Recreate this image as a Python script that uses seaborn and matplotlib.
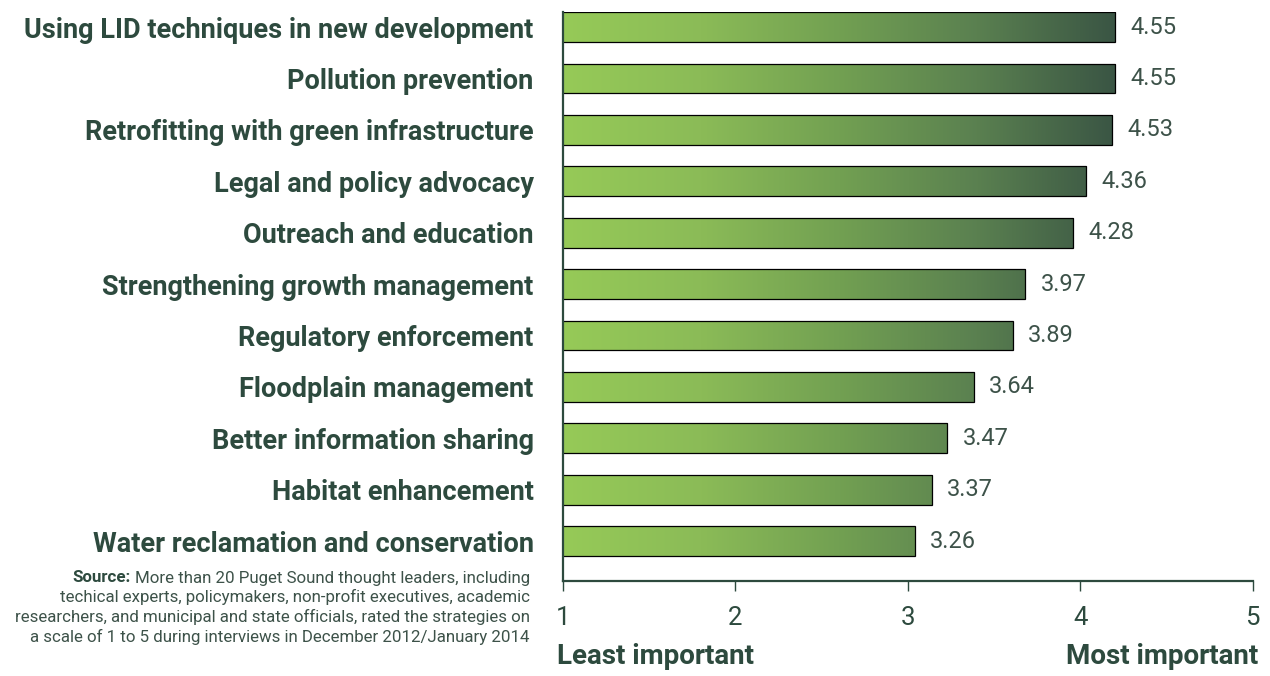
import matplotlib
matplotlib.use("Agg")
import numpy as np
import matplotlib.pyplot as plt
from matplotlib.colors import LinearSegmentedColormap
import seaborn as sns

strategies = [
    "Using LID techniques in new development",
    "Pollution prevention",
    "Retrofitting with green infrastructure",
    "Legal and policy advocacy",
    "Outreach and education",
    "Strengthening growth management",
    "Regulatory enforcement",
    "Floodplain management",
    "Better information sharing",
    "Habitat enhancement",
    "Water reclamation and conservation",
]
scores = [4.55, 4.55, 4.53, 4.36, 4.28, 3.97, 3.89, 3.64, 3.47, 3.37, 3.26]
scale_ticks = [1, 2, 3, 4, 5]
source_lines = [
    "More than 20 Puget Sound thought leaders, including",
    "techical experts, policymakers, non-profit executives, academic",
    "researchers, and municipal and state officials, rated the strategies on",
    "a scale of 1 to 5 during interviews in December 2012/January 2014",
]

sns.set_theme(style="white")
plt.rcParams['font.family'] = ['Roboto', 'DejaVu Sans']

text_col = "#2d4a3e"
num_col = "#3d5249"
green = LinearSegmentedColormap.from_list(
    "bar_green", ["#96ca58", "#8bbb57", "#72a052", "#5a8050", "#3a5544"])

fig = plt.figure(figsize=(12.7, 6.76), dpi=100)
ax = fig.add_axes([0.4431, 0.141, 0.5433, 0.841])
ax_bar = ax.twiny()

# bars sit on a hidden twin scale, as in the original graphic
bar_xlim = (1, 1 + 4 * 172.5 / 155.7)
sns.barplot(x=scores, y=strategies, orient="h", width=0.58, ax=ax_bar,
            color="white", edgecolor="black", linewidth=0.9)
ax_bar.set_xticks([])
ax_bar.set_xlabel("")
for s in ax_bar.spines.values():
    s.set_visible(False)

grad = np.linspace(0, 1, 256).reshape(1, -1)
for patch in ax_bar.patches:
    patch.set_facecolor("none")
    patch.set_zorder(3)
    y0 = patch.get_y()
    h = patch.get_height()
    im = ax_bar.imshow(grad, cmap=green, aspect="auto", zorder=2,
                       extent=[1, max(scores), y0 + h, y0], interpolation="bicubic")
    im.set_clip_path(patch)
ax_bar.set_xlim(*bar_xlim)
ax_bar.set_ylim(10.77, -0.29)

ax_bar.bar_label(ax_bar.containers[0], fmt="%.2f", padding=11,
                 fontsize=17, color=num_col)

# visible 1-5 scale
ax.set_zorder(ax_bar.get_zorder() + 1)
ax.patch.set_visible(False)
ax.set_xlim(1, 5)
ax.set_xticks(scale_ticks)
ax.set_xticklabels([str(t) for t in scale_ticks], fontsize=18.5, color=text_col)
ax.set_yticks(range(len(strategies)))
ax.set_yticklabels(strategies, fontsize=19.5, fontweight="bold", color=text_col)
ax.set_ylim(10.77, -0.29)
ax.tick_params(axis="x", bottom=True, direction="out", length=7, width=1,
               color=text_col, pad=11)
ax.tick_params(axis="y", left=False, pad=15)
for side in ["top", "right"]:
    ax.spines[side].set_visible(False)
for side in ["left", "bottom"]:
    ax.spines[side].set_color(text_col)
    ax.spines[side].set_linewidth(1.6)

fig.text(557 / 1270, 1 - 657 / 676, "Least important", fontsize=20, fontweight="bold",
         color=text_col, ha="left", va="center")
fig.text(1258 / 1270, 1 - 657 / 676, "Most important", fontsize=20, fontweight="bold",
         color=text_col, ha="right", va="center")

src_fs = 12.2
src_y = [578, 597, 617, 637]
first = fig.text(530 / 1270, 1 - src_y[0] / 676, source_lines[0], fontsize=src_fs,
                 color=num_col, ha="right", va="center")
ax.annotate("Source:", xy=(0, 0.5), xycoords=first, xytext=(-3, 0),
            textcoords="offset points", fontsize=src_fs, fontweight="bold",
            color=text_col, ha="right", va="center", annotation_clip=False)
for line, yy in zip(source_lines[1:], src_y[1:]):
    fig.text(530 / 1270, 1 - yy / 676, line, fontsize=src_fs, color=num_col,
             ha="right", va="center")

fig.savefig("out.png", dpi=100)
